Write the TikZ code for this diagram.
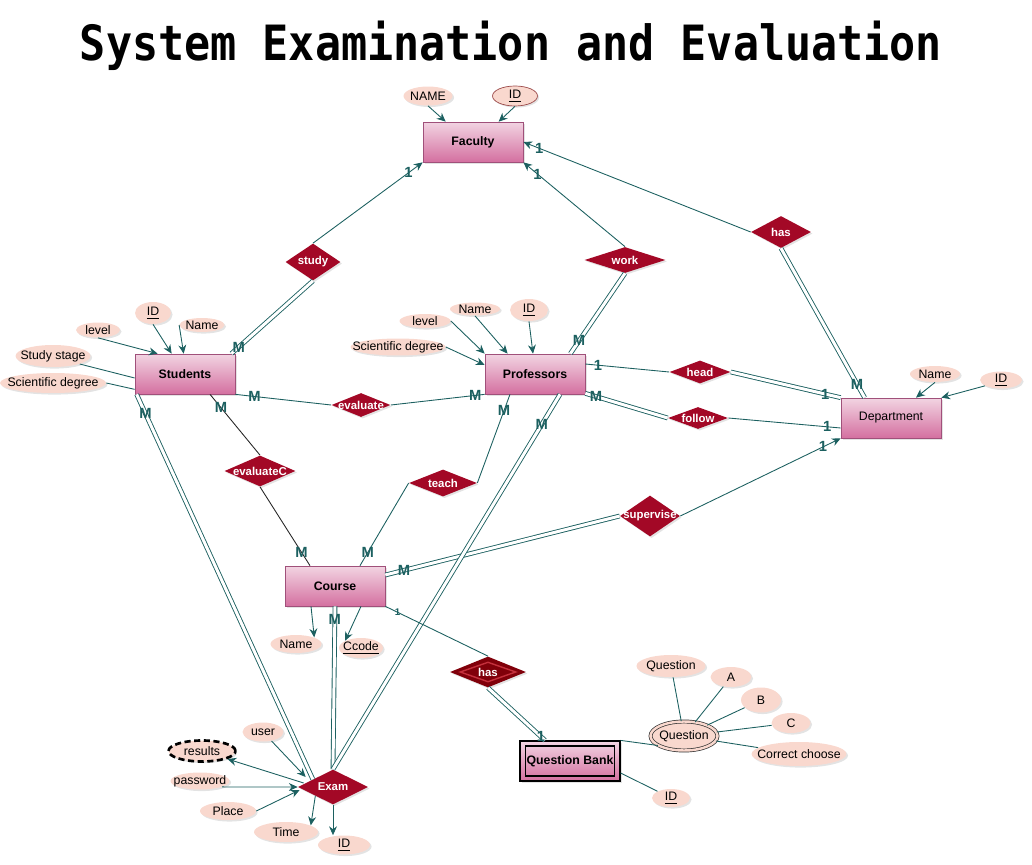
\documentclass[tikz,border=0pt]{standalone}
\usepackage{fontspec}
\setmainfont{Liberation Sans}
\newfontfamily\titlefont{DejaVu Sans Mono}
\usetikzlibrary{shapes.geometric,calc,arrows.meta,shadows}

\definecolor{linkteal}{RGB}{28,96,96}
\definecolor{relred}{RGB}{163,8,38}
\definecolor{weakred}{RGB}{128,0,10}
\definecolor{weakline}{RGB}{196,48,60}
\definecolor{attrpink}{RGB}{249,216,206}
\definecolor{enttop}{RGB}{242,212,226}
\definecolor{entbot}{RGB}{212,112,160}
\definecolor{entedge}{RGB}{160,80,122}

\begin{document}
\begin{tikzpicture}[x=0.02cm,y=-0.02cm,
  font=\fontsize{7}{8}\selectfont,
  slim/.style={execute at begin node={\hbox to 0pt\bgroup\hss},
    execute at end node={\hss\egroup}},
  soft/.style={drop shadow={opacity=0.22,shadow xshift=0.9pt,shadow yshift=-0.9pt}},
  entity/.style={rectangle, draw=entedge, top color=enttop, bottom color=entbot,
    minimum width=2cm, minimum height=0.8cm, soft},
  rel/.style={diamond, fill=relred, text=white, inner sep=0pt, aspect=1, slim, soft,
    font=\fontsize{6.5}{8}\selectfont\bfseries},
  attr/.style 2 args={ellipse, fill=attrpink, inner sep=0pt, minimum width=#1,
    minimum height=#2, slim, soft},
  link/.style={draw=linkteal, line width=0.5pt},
  plain/.style={draw=black!85, line width=0.5pt},
  dbl/.style={link, double=white, double distance=1.7pt},
  arr/.style={-{Stealth[length=5pt,width=4.5pt]}},
  card/.style={text=linkteal, font=\fontsize{8.4}{9}\selectfont\bfseries, inner sep=0pt}]
\useasboundingbox (0,0) rectangle (1032,865);

% title
\node[anchor=base] (title) at (511,61)
  {\fontsize{24.7}{28}\selectfont\titlefont\bfseries\scalebox{1}[1.12]{System Examination and Evaluation}};

% entities
\node[entity] (fac) at (473,142) {\textbf{Faculty}};
\node[entity] (stud) at (185,374) {\textbf{Students}};
\node[entity] (prof) at (535,374) {\textbf{Professors}};
\node[entity] (dept) at (891,418) {Department};
\node[entity] (course) at (335,586) {\textbf{Course}};
\node[entity, draw=black, line width=0.7pt] (qbank) at (570,761) {\textbf{Question Bank}};
\node[draw=black, line width=0.7pt, minimum width=1.78cm, minimum height=0.6cm, inner sep=0pt] (qbankIn) at (qbank) {};

% relationships
\node[rel, minimum width=1.1cm, minimum height=0.74cm] (rStudy) at (313,262) {study};
\node[rel, minimum width=1.62cm, minimum height=0.52cm] (rWork) at (625,260) {work};
\node[rel, minimum width=1.2cm, minimum height=0.64cm] (rHasF) at (781,232) {has};
\node[rel, minimum width=1.22cm, minimum height=0.46cm] (rHead) at (700,372) {head};
\node[rel, minimum width=1.2cm, minimum height=0.44cm] (rFollow) at (698,418) {follow};
\node[rel, minimum width=1.2cm, minimum height=0.82cm] (rSuper) at (650,516) {supervise};
\node[rel, minimum width=1.18cm, minimum height=0.48cm] (rEval) at (361,405) {evaluate};
\node[rel, minimum width=1.42cm, minimum height=0.62cm] (rEvalC) at (260,471) {evaluateC};
\node[rel, minimum width=1.36cm, minimum height=0.54cm] (rTeach) at (443,483) {teach};
\node[rel, fill=weakred, minimum width=1.52cm, minimum height=0.62cm] (rHasQ) at (488,672) {has};
\node[diamond, draw=weakline, line width=0.8pt, inner sep=0pt, minimum width=1.12cm, minimum height=0.4cm] (rHasQin) at (rHasQ) {};
\node[rel, minimum width=1.4cm, minimum height=0.7cm] (rExam) at (333,787) {Exam};

% attributes
\node[attr={0.98cm}{0.38cm}] (aFName) at (428,96) {NAME};
\node[attr={0.9cm}{0.4cm}, draw=red!45!black!70] (aFId) at (515,96) {\underline{ID}};
\node[attr={0.72cm}{0.44cm}] (aSId) at (153,313) {\underline{ID}};
\node[attr={0.9cm}{0.28cm}] (aSName) at (202,325) {Name};
\node[attr={0.88cm}{0.3cm}] (aSLevel) at (98,330) {level};
\node[attr={1.5cm}{0.44cm}] (aSStage) at (53,356) {Study stage};
\node[attr={2.12cm}{0.4cm}] (aSDeg) at (53,383) {Scientific degree};
\node[attr={1.02cm}{0.28cm}] (aPLevel) at (425,321) {level};
\node[attr={1cm}{0.26cm}] (aPName) at (475,309) {Name};
\node[attr={0.76cm}{0.44cm}] (aPId) at (529,310) {\underline{ID}};
\node[attr={1.9cm}{0.34cm}] (aPDeg) at (398,347) {Scientific degree};
\node[attr={1cm}{0.32cm}] (aDName) at (935,374) {Name};
\node[attr={0.84cm}{0.28cm}] (aDId) at (1001,380) {\underline{ID}};
\node[attr={1.02cm}{0.36cm}] (aCName) at (296,644) {Name};
\node[attr={0.88cm}{0.4cm}] (aCCode) at (361,648) {\underline{Ccode}};
\node[attr={0.82cm}{0.38cm}] (aUser) at (263,732) {user};
\node[attr={1.34cm}{0.42cm}, draw=black, line width=1.5pt, dash pattern=on 3.5pt off 2pt] (aResults) at (202,751) {results};
\node[attr={1.18cm}{0.34cm}] (aPass) at (200,781) {password};
\node[attr={1.12cm}{0.36cm}] (aPlace) at (228,811) {Place};
\node[attr={1.28cm}{0.4cm}] (aTime) at (286,832) {Time};
\node[attr={1.04cm}{0.38cm}] (aExamId) at (344,845) {\underline{ID}};
\node[attr={0.76cm}{0.36cm}] (aQbId) at (671,798) {\underline{ID}};
\node[attr={1.34cm}{0.58cm}, draw=black!80, double=attrpink, double distance=1.4pt] (aQuest) at (684,736) {Question};
\node[attr={1.38cm}{0.44cm}] (aQ1) at (671,666) {Question};
\node[attr={0.82cm}{0.4cm}] (aQA) at (731,677) {A};
\node[attr={0.8cm}{0.5cm}] (aQB) at (761,700) {B};
\node[attr={0.78cm}{0.4cm}] (aQC) at (791,723) {C};
\node[attr={1.9cm}{0.48cm}] (aQCorrect) at (799,754) {Correct choose};

% faculty links
\draw[link,arr] (aFName.south) -- ($(fac.north west)+(23,0)$);
\draw[link,arr] (aFId.south) -- ($(fac.north west)+(76,0)$);
\draw[link,arr] (rStudy.north) -- (fac.south west) node[card,pos=0.87] {1};
\draw[dbl] ($(stud.north east)+(-4,0)$) -- (rStudy.south) node[card,pos=0.09] {M};
\draw[link,arr] (rWork.north) -- (fac.south east) node[card,pos=0.86] {1};
\draw[dbl] ($(prof.north east)+(-15,0)$) -- (rWork.south) node[card,pos=0.16] {M};
\draw[link,arr] (rHasF.west) -- (fac.east) node[card,pos=0.93] {1};
\draw[dbl] ($(dept.north west)+(24,0)$) -- (rHasF.south) node[card,pos=0.09] {M};

% professors and department
\draw[link] ($(prof.east)+(0,-10)$) -- (rHead.west) node[card,pos=0.15] {1};
\draw[dbl] (rHead.east) -- (dept.north west) node[card,pos=0.86] {1};
\draw[dbl] ($(prof.south east)+(0,-1)$) -- (rFollow.west) node[card,pos=0.13] {M};
\draw[link] (rFollow.east) -- ($(dept.west)+(0,10)$) node[card,pos=0.88] {1};
\draw[link,arr] (rSuper.east) -- (dept.south west) node[card,pos=0.89] {1};
\draw[dbl] ($(course.east)+(0,-11)$) -- (rSuper.west) node[card,pos=0.08] {M};

% evaluate and teach
\draw[link] (stud.south east) -- (rEval.west) node[card,pos=0.2] {M};
\draw[link] (rEval.east) -- (prof.south west) node[card,pos=0.9] {M};
\draw[plain] ($(stud.south)+(25,0)$) -- (rEvalC.north) node[card,pos=0.22] {M};
\draw[plain] (rEvalC.south) -- ($(course.north)+(-25,0)$) node[card,pos=0.83] {M};
\draw[link] ($(prof.south)+(-25,0)$) -- (rTeach.east) node[card,pos=0.18] {M};
\draw[link] (rTeach.west) -- ($(course.north)+(25,0)$) node[card,pos=0.84] {M};

% exam
\draw[dbl] ($(stud.south west)+(2,0)$) -- ($(rExam.north)!0.57!(rExam.west)$) node[card,pos=0.05] {M};
\draw[dbl] (course.south) -- (rExam.north) node[card,pos=0.08] {M};
\draw[dbl] ($(prof.south)+(25,0)$) -- (rExam.north) node[card,pos=0.08] {M};
\draw[link,arr] (aUser) -- ($(rExam.west)+(8,-10)$);
\draw[link,arr] ($(rExam.west)+(6,-4)$) -- (aResults);
\draw[link,arr] (aPass.-15) -- (rExam.west);
\draw[link,arr] (aPlace.east) -- ($(rExam.west)+(2,3)$);
\draw[link,arr] ($(rExam.south)!0.5!(rExam.west)$) -- (aTime.15);
\draw[link,arr] (rExam.south) -- (rExam.south |- aExamId.north);

% course attributes
\draw[link,arr] ($(course.south)+(-24,0)$) -- (aCName.north east);
\draw[link,arr] ($(course.south)+(26,0)$) -- (aCCode.north west);

% question bank
\draw[link] (course.south east) -- (rHasQ.north) node[card,pos=0.12,font=\fontsize{5.5}{6}\selectfont\bfseries] {1};
\draw[dbl] (rHasQ.south) -- ($(qbank.north)+(-25,0)$) node[card,pos=0.93] {1};
\draw[link] (qbank.north east) -- (aQuest.200);
\draw[link] ($(qbank.east)+(0,12)$) -- (aQbId);
\foreach \q in {aQ1,aQA,aQB,aQC,aQCorrect}
  \draw[link] (aQuest) -- (\q);

% students attributes
\draw[link,arr] (aSLevel.south) -- ($(stud.north west)+(23,0)$);
\draw[link,arr] (aSId.south) -- ($(stud.north west)+(37,0)$);
\draw[link,arr] (aSName.west) -- ($(stud.north west)+(49,0)$);
\draw[link] (aSStage.south east) -- ($(stud.west)+(0,4)$);
\draw[link] (aSDeg.east) -- ($(stud.south west)+(0,-5)$);

% professors attributes
\draw[link,arr] (aPDeg.east) -- ($(prof.west)+(0,-9)$);
\draw[link,arr] (aPLevel.east) -- (prof.north west);
\draw[link,arr] (aPName.south) -- ($(prof.north west)+(23,0)$);
\draw[link,arr] (aPId.south) -- ($(prof.north)+(-2,0)$);

% department attributes
\draw[link,arr] (aDName.south) -- ($(dept.north)+(25,0)$);
\draw[link,arr] (aDId.200) -- (dept.north east);
\end{tikzpicture}
\end{document}
